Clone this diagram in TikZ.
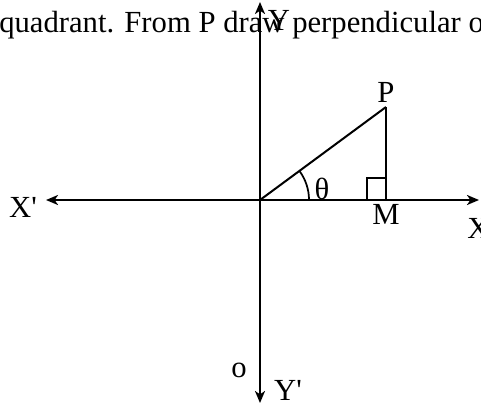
\documentclass[tikz,border=0pt]{standalone}
\usepackage{fontspec}
\setmainfont{Liberation Serif}[Ligatures=TeXOff]
\usetikzlibrary{calc,positioning,arrows.meta}
\definecolor{InkBlack}{HTML}{000000}

\begin{document}
\begin{tikzpicture}[x=0.75pt,y=0.75pt,
  axis/.style={draw=InkBlack,line width=1.6pt,{Stealth[length=9pt,width=7.5pt,inset=2.5pt]}-{Stealth[length=9pt,width=7.5pt,inset=2.5pt]}},
  leg/.style={draw=InkBlack,line width=1.5pt},
  lbl/.style={text=InkBlack,font=\fontsize{23}{27}\selectfont,inner sep=0pt}]
  \useasboundingbox (0,0) rectangle (481,405);
  \clip (0,0) rectangle (481,405);
  % axes and points
  \coordinate (O) at (260,205);
  \coordinate (P) at (386,298);
  \coordinate (M) at (386,205);
  \coordinate (Xl) at (46,205);
  \coordinate (Xr) at (479,205);
  \coordinate (Yt) at (260,403);
  \coordinate (Yb) at (260,2);
  \node[lbl,anchor=base west] (caption) at (-1,373) {quadrant. From P draw perpendicular on};
  \draw[axis] (Xl) -- (Xr);
  \draw[axis] (Yb) -- (Yt);
  \draw[leg] (O) -- (P);
  \draw[leg,line width=1.1pt] (P) -- (M);
  \draw[leg,line width=1.1pt] ($(M)+(-19,0)$) rectangle ($(M)+(0,22)$);
  \draw[leg,line width=1.3pt] ($(O)+(49,0)$) arc[start angle=0,end angle=36.4,radius=49];
  \node[lbl] (Plbl) at (386,313) {P};
  \node[lbl] (Mlbl) at (386,191) {M};
  \node[lbl] (theta) at (322,216) {θ};
  \node[lbl,anchor=west] (Xlbl) at (467,177) {X};
  \node[lbl] (Xplbl) at (23,198) {X'};
  \node[lbl] (Ylbl) at (279,385) {Y};
  \node[lbl] (Yplbl) at (288,15) {Y'};
  \node[lbl] (olbl) at (239,35) {o};
\end{tikzpicture}
\end{document}
